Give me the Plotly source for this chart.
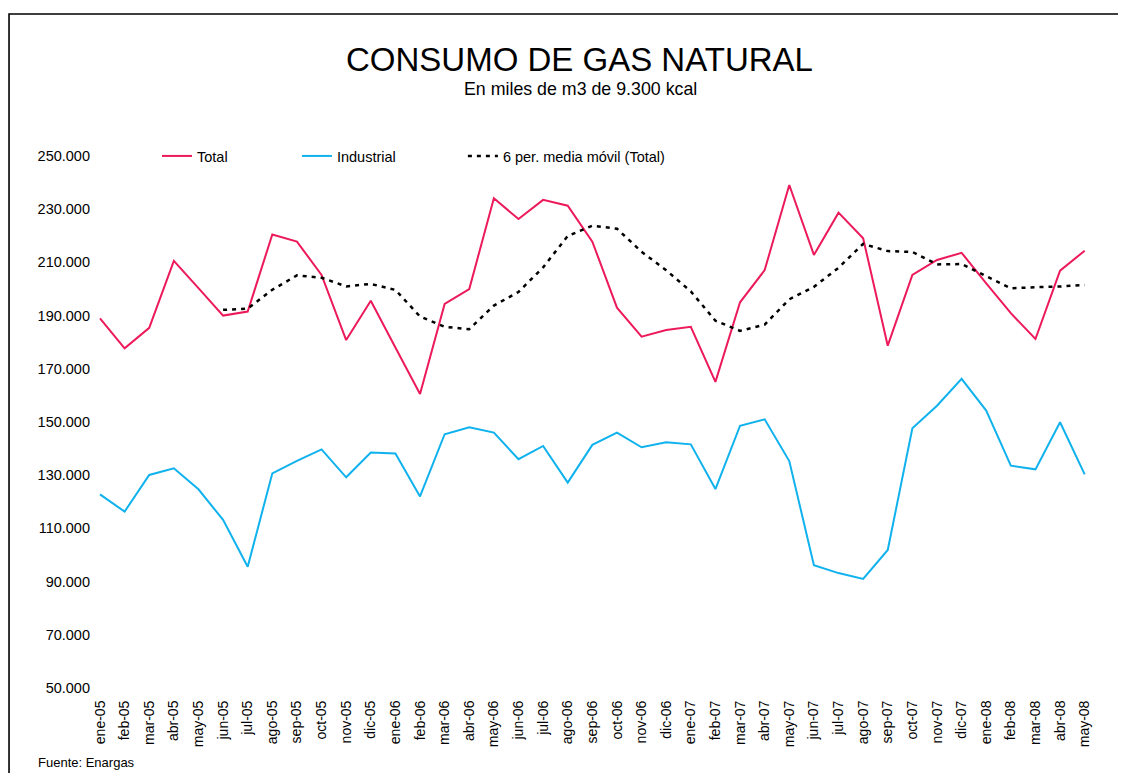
import pandas as pd
import plotly.graph_objects as go

months = [
    "ene-05", "feb-05", "mar-05", "abr-05", "may-05", "jun-05", "jul-05", "ago-05", "sep-05", "oct-05", "nov-05", "dic-05",
    "ene-06", "feb-06", "mar-06", "abr-06", "may-06", "jun-06", "jul-06", "ago-06", "sep-06", "oct-06", "nov-06", "dic-06",
    "ene-07", "feb-07", "mar-07", "abr-07", "may-07", "jun-07", "jul-07", "ago-07", "sep-07", "oct-07", "nov-07", "dic-07",
    "ene-08", "feb-08", "mar-08", "abr-08", "may-08",
]

total = [
    189000, 177700, 185400, 210600, 200300, 190000, 191500, 220500, 217800, 205300, 180800, 195600,
    178000, 160500, 194400, 200000, 234100, 226300, 233500, 231300, 217800, 193000, 182100, 184600,
    185800, 165100, 195000, 207100, 239100, 212800, 228700, 219100, 178700, 205300, 210900, 213600,
    202100, 190900, 181200, 206900, 214400,
]

industrial = [
    122800, 116300, 130100, 132600, 124700, 113200, 95600, 130700, 135400, 139700, 129200, 138500,
    138200, 122000, 145400, 148000, 146000, 136000, 141000, 127200, 141400, 146000, 140500, 142400,
    141600, 124800, 148600, 151000, 135300, 96200, 93200, 91000, 101900, 147600, 156100, 166200,
    154300, 133600, 132200, 149900, 130300,
]

y_ticks = [50000, 70000, 90000, 110000, 130000, 150000, 170000, 190000, 210000, 230000, 250000]
y_tick_labels = ["50.000", "70.000", "90.000", "110.000", "130.000", "150.000",
                 "170.000", "190.000", "210.000", "230.000", "250.000"]

ma_window = 6
moving_avg = pd.Series(total).rolling(ma_window).mean()

FONT = "Arial, 'Liberation Sans', sans-serif"
PINK = "#EC1A5B"
BLUE = "#10B2EE"

# page has an 8px body margin; positions below are in screenshot pixels
OFF = 8
W, H = 1126 - OFF, 773 - OFF
PL, PR, PT, PB = 91, 1097.3, 156, 688          # plot area in screenshot pixels
L, R, T, B = PL - OFF, W - (PR - OFF), PT - OFF, H - (PB - OFF)
pw, ph = W - L - R, H - T - B
step = 24.625
x_start = -(100 - PL) / step


def px_x(p):
    return (p - OFF - L) / pw


def px_y(p):
    return (H - B - (p - OFF)) / ph


fig = go.Figure()
fig.add_trace(go.Scatter(x=months, y=total, mode="lines", name="Total",
                         line=dict(color=PINK, width=2), legend="legend"))
fig.add_trace(go.Scatter(x=months, y=industrial, mode="lines", name="Industrial",
                         line=dict(color=BLUE, width=2), legend="legend2"))
fig.add_trace(go.Scatter(x=months, y=moving_avg, mode="lines", name="6 per. media móvil (Total)",
                         line=dict(color="black", width=2.5, dash="4px,5px"), legend="legend3"))

leg_common = dict(orientation="h", yanchor="middle", xanchor="left", bgcolor="rgba(0,0,0,0)",
                  font=dict(family=FONT, size=14.5, color="black"), borderwidth=0)

fig.update_layout(
    width=W, height=H,
    margin=dict(l=L, r=R, t=T, b=B, pad=0),
    paper_bgcolor="white", plot_bgcolor="white",
    font=dict(family=FONT, color="black"),
    showlegend=True,
    legend=dict(x=px_x(157), y=px_y(156), **leg_common),
    legend2=dict(x=px_x(297), y=px_y(156), **leg_common),
    legend3=dict(x=px_x(463), y=px_y(156), **leg_common),
    xaxis=dict(type="category", range=[x_start, len(months) - 0.5], showgrid=False, zeroline=False,
               showline=False, tickangle=-90, tickfont=dict(family=FONT, size=14, color="black"),
               ticks="outside", ticklen=6, tickcolor="rgba(0,0,0,0)"),
    yaxis=dict(range=[50000, 250000], tickvals=y_ticks, ticktext=y_tick_labels, showgrid=False,
               zeroline=False, showline=False, tickfont=dict(family=FONT, size=14.5, color="black"),
               ticks=""),
    shapes=[dict(type="rect", xref="paper", yref="paper",
                 x0=px_x(9), x1=px_x(1160), y0=px_y(14), y1=px_y(800),
                 line=dict(color="black", width=1.6), fillcolor="rgba(0,0,0,0)", layer="below")],
    annotations=[
        dict(text="CONSUMO DE GAS NATURAL", xref="paper", yref="paper", x=px_x(580), y=px_y(59),
             xanchor="center", yanchor="middle", showarrow=False,
             font=dict(family=FONT, size=33, color="black")),
        dict(text="En miles de m3 de 9.300 kcal", xref="paper", yref="paper", x=px_x(581), y=px_y(89),
             xanchor="center", yanchor="middle", showarrow=False,
             font=dict(family=FONT, size=17.8, color="black")),
        dict(text="Fuente: Enargas", xref="paper", yref="paper", x=px_x(36), y=px_y(762),
             xanchor="left", yanchor="middle", showarrow=False,
             font=dict(family=FONT, size=13, color="black")),
    ],
)

fig.write_html("out.html")
